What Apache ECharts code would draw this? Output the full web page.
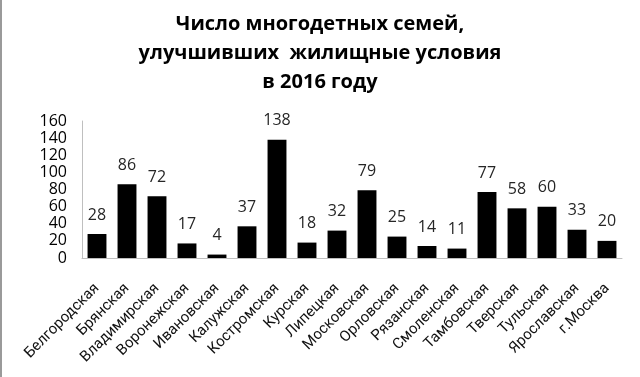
<!DOCTYPE html>
<html>
<head>
<meta charset="utf-8">
<script src="https://cdn.jsdelivr.net/npm/echarts@6/dist/echarts.min.js"></script>
<style>html,body{margin:0;padding:0;background:#fff;}#c{width:640px;height:377px;}</style>
</head>
<body>
<div id="c"></div>
<script>
const titleLines = ["Число многодетных семей,", "улучшивших  жилищные условия", "в 2016 году"];
const categories = ["Белгородская","Брянская","Владимирская","Воронежская","Ивановская","Калужская","Костромская","Курская","Липецкая","Московская","Орловская","Рязанская","Смоленская","Тамбовская","Тверская","Тульская","Ярославская","г.Москва"];
const values = [28,86,72,17,4,37,138,18,32,79,25,14,11,77,58,60,33,20];
const yTicks = [0,20,40,60,80,100,120,140,160];

const font = "'Open Sans', 'Noto Sans', sans-serif";
const labelFont = "Roboto, 'Open Sans', sans-serif";
const chart = echarts.init(document.getElementById('c'), null, {renderer:'canvas'});
chart.setOption({
  animation:false,
  backgroundColor:'#fff',
  title:{
    text:titleLines.join('\n'),
    left:'center', top:5,
    textStyle:{fontFamily:font, fontWeight:'bold', fontSize:20, lineHeight:29, color:'#000'}
  },
  grid:{left:82, right:18, top:121, bottom:119, containLabel:false},
  xAxis:{
    type:'category', data:categories,
    axisLine:{lineStyle:{color:'#BFBFBF', width:1}},
    axisTick:{show:false},
    axisLabel:{rotate:45, interval:0, margin:28, fontFamily:labelFont, fontSize:15, color:'#111'}
  },
  yAxis:{
    type:'value', min:yTicks[0], max:yTicks[yTicks.length-1], interval:20,
    axisLine:{show:true, lineStyle:{color:'#BFBFBF', width:1}},
    axisTick:{show:false},
    splitLine:{show:false},
    axisLabel:{fontFamily:font, fontSize:16, color:'#000', margin:15}
  },
  series:[{
    type:'bar', data:values, barWidth:'63%',
    itemStyle:{color:'#000'},
    label:{show:true, position:'top', distance:11, fontFamily:font, fontSize:16, color:'#262626'}
  }],
  graphic:[{type:'line', shape:{x1:1, y1:0, x2:1, y2:377}, style:{stroke:'#9a9a9a', lineWidth:2}}]
});
</script>
</body>
</html>
